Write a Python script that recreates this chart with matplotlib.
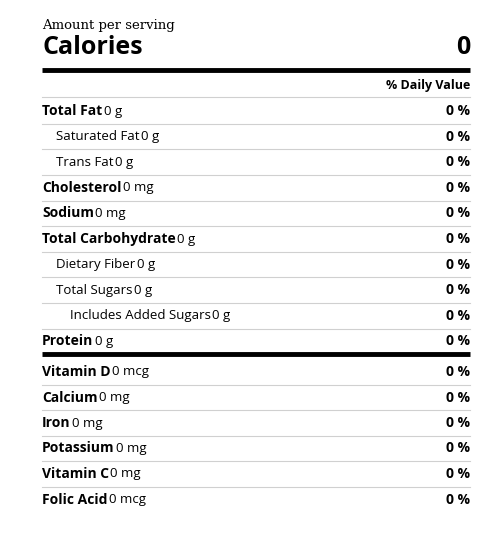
import matplotlib
matplotlib.use("Agg")
import matplotlib.pyplot as plt

names = ["Total Fat", "Saturated Fat", "Trans Fat", "Cholesterol", "Sodium", "Total Carbohydrate",
         "Dietary Fiber", "Total Sugars", "Includes Added Sugars", "Protein",
         "Vitamin D", "Calcium", "Iron", "Potassium", "Vitamin C", "Folic Acid"]
amounts = ["0 g", "0 g", "0 g", "0 mg", "0 mg", "0 g", "0 g", "0 g", "0 g", "0 g",
           "0 mcg", "0 mg", "0 mg", "0 mg", "0 mg", "0 mcg"]
indent = [0, 1, 1, 0, 0, 0, 1, 1, 2, 0, 0, 0, 0, 0, 0, 0]
daily = ["0 %"] * 16
calories = "0"

fig = plt.figure(figsize=(4.9, 5.34), dpi=100)
ax = fig.add_axes([0, 0, 1, 1])
ax.set_xlim(0, 490); ax.set_ylim(534, 0); ax.axis("off")
F = "Open Sans"
L, R = 42, 470

ax.text(L, 26, "Amount per serving", fontfamily="DejaVu Serif", fontsize=9.5, va="center", ha="left")
ax.text(L, 48, "Calories", fontfamily=F, fontweight="bold", fontsize=18, va="center")
ax.text(R, 48, calories, fontfamily=F, fontweight="bold", fontsize=18, va="center", ha="right")
ax.plot([L, R], [69.5, 69.5], color="black", lw=3.5, solid_capstyle="butt")
ax.text(R, 85, "% Daily Value", fontfamily=F, fontweight="bold", fontsize=9, va="center", ha="right")
ax.plot([L, R], [97, 97], color="#d0d0d0", lw=0.8)

fig.canvas.draw()
rend = fig.canvas.get_renderer()
ys = [111 + i * 25.6 for i in range(10)] + [372 + i * 25.5 for i in range(6)]
for i, (n, a, ind, d, y) in enumerate(zip(names, amounts, indent, daily, ys)):
    x = L + ind * 14
    bold = ind == 0
    t = ax.text(x, y, n, fontfamily=F, fontweight="bold" if bold else "normal",
                fontsize=10 if bold else 9.5, va="center", ha="left")
    bb = t.get_window_extent(rend)
    x2 = ax.transData.inverted().transform((bb.x1, bb.y0))[0] + 1.5
    ax.text(x2, y, a, fontfamily=F, fontsize=9.5, va="center", ha="left")
    ax.text(R, y, d, fontfamily=F, fontweight="bold", fontsize=10, va="center", ha="right")
    if i == 9:
        ax.plot([L, R], [354, 354], color="black", lw=3.5, solid_capstyle="butt")
    elif i < 15:
        yl = (y + ys[i + 1]) / 2
        ax.plot([L, R], [yl, yl], color="#d0d0d0", lw=0.8)

fig.savefig("out.png", dpi=100)
